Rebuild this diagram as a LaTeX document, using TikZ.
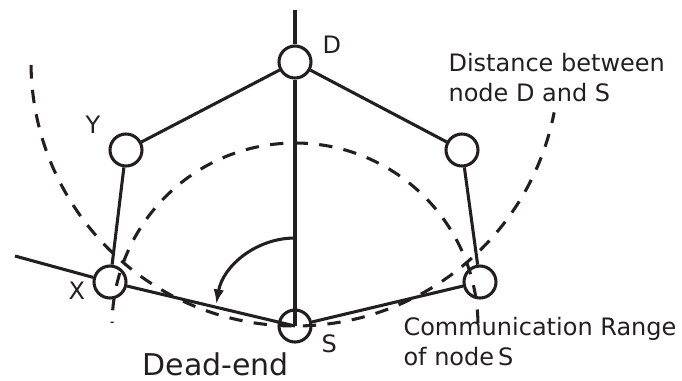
\documentclass[tikz,border=0pt]{standalone}
\usepackage{fontspec}
\setmainfont{DejaVu Sans}
\usetikzlibrary{arrows.meta}
\definecolor{ink}{HTML}{231F20}
\tikzset{
  sensor/.style={draw=ink,shape=circle,line width=2.3pt,inner sep=0pt,minimum size=24pt},
  lbl/.style={text=ink,inner sep=0pt,anchor=base west,font=\fontsize{18}{22.5}\selectfont},
  rangeline/.style={draw=ink,line width=2.3pt,dash pattern=on 10pt off 8.5pt}
}
\begin{document}
\begin{tikzpicture}[x=0.75pt,y=0.75pt,line width=2.3pt,draw=ink]
\useasboundingbox (0,0) rectangle (682,-380);
\node[sensor] (D) at (295,-62) {};
\node[sensor] (Y) at (126,-150) {};
\node[sensor] (X) at (110,-282) {};
\node[sensor] (S) at (295,-326) {};
\node[sensor] (P) at (462,-150) {};
\node[sensor] (Q) at (480,-282) {};
\coordinate (top) at (295,-10);
\coordinate (left) at (15,-256);
\draw (top)--(D);
\draw (D)--(S.center);
\draw (D)--(Y)--(X)--(S.center);
\draw (D)--(P)--(Q)--(S);
\draw (left)--(X);
% ranges
\draw[rangeline] (D.center) ++(180.7:264) arc[start angle=180.7,end angle=349,radius=264];
\draw[rangeline] (S.center) ++(1:183) arc[start angle=1,end angle=179,radius=183];
% turning angle at S
\coordinate (turn) at (295,-238);
\draw[-{Latex[length=11pt,width=8pt]}] (turn) arc[start angle=90,end angle=170,radius=80];
% labels
\node[lbl] (lD) at (321,-53) {D};
\node[lbl] (lY) at (84,-133) {Y};
\node[lbl] (lX) at (67,-299) {X};
\node[lbl] (lS) at (320,-352) {S};
\node[lbl,align=left] (dist) at (447,-101) {Distance between\\node D and S};
\node[lbl,align=left] (comm) at (402,-365) {Communication Range\\of node\,S};
\node[lbl,font=\fontsize{22.5}{27}\selectfont] (dead) at (141,-375) {Dead-end};
\end{tikzpicture}
\end{document}
